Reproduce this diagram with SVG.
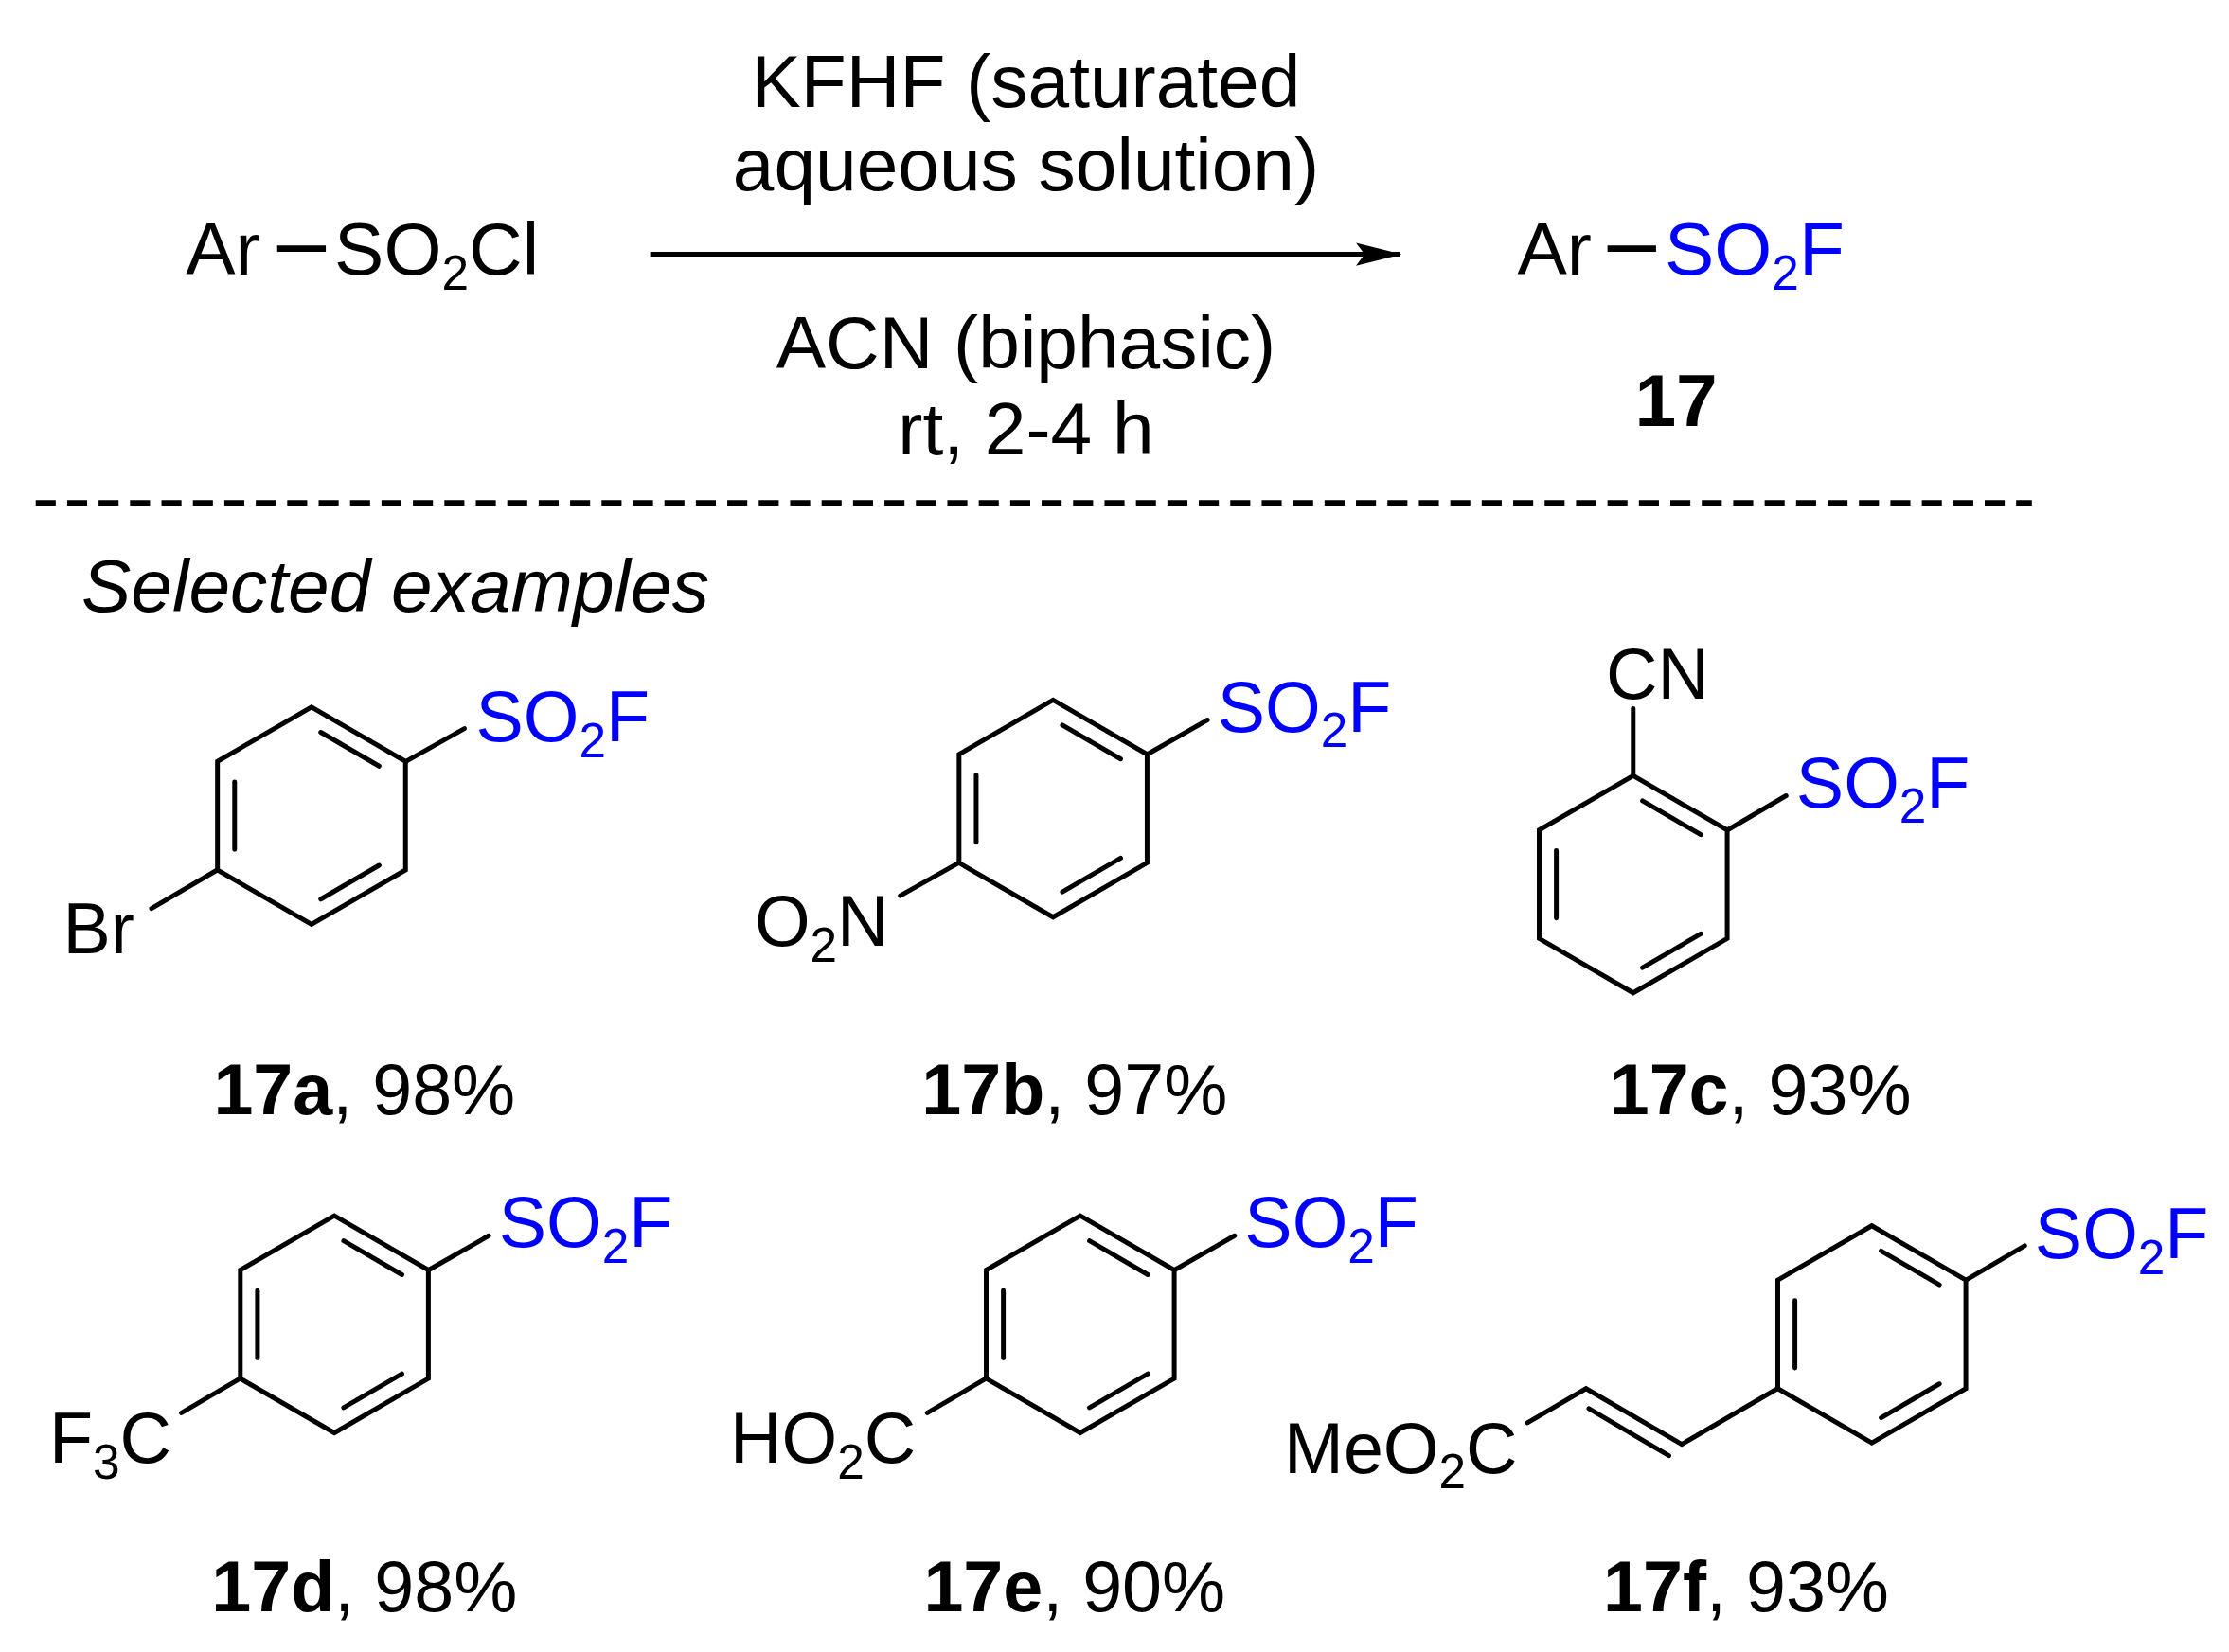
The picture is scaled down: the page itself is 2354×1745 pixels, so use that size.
<svg xmlns="http://www.w3.org/2000/svg" xmlns:xlink="http://www.w3.org/1999/xlink" width="2354" height="1745" viewBox="0 0 2354 1745">
<style>
text{font-family:"Liberation Sans",Arial,sans-serif;fill:#000}
.t{font-size:52px}
.s{font-size:50px}
.sub{font-size:34px}
.b{fill:#0000ff}
.bold{font-weight:bold}
.ln{stroke:#000;stroke-width:3.3;fill:none;stroke-linecap:round}
</style>
<defs>
<marker id="ah" markerWidth="32" markerHeight="18" refX="31" refY="9" orient="auto" markerUnits="userSpaceOnUse" viewBox="0 0 32 18"><path d="M0,1 L32,9 L0,17 L6,9 Z" fill="#000"/></marker>
<g id="ring">
<path class="ln" d="M0,-76 L65.8,-38 L65.8,38 L0,76 L-65.8,38 L-65.8,-38 Z"/>
<path class="ln" d="M6.5,-58.4 L47.3,-34.7 M-53.8,-23.6 L-53.8,23.6 M47.3,34.7 L6.5,58.4"/>
</g>
</defs>
<rect width="2354" height="1745" fill="#fff"/>
<g transform="scale(1.509)">
<g id="reaction">
<text class="t" x="130" y="192">Ar</text>
<line x1="194" y1="174" x2="228" y2="174" stroke="#000" stroke-width="4.5"/>
<text class="t" x="234" y="192">SO<tspan class="sub" dy="11">2</tspan><tspan dy="-11">Cl</tspan></text>
<text class="t" x="1062" y="192">Ar</text>
<line x1="1125" y1="174" x2="1159" y2="174" stroke="#000" stroke-width="4.5"/>
<text class="t b" x="1165" y="192">SO<tspan class="sub" dy="11">2</tspan><tspan dy="-11">F</tspan></text>
<text class="t bold" x="1173" y="298" text-anchor="middle">17</text>
<text class="t" x="718" y="75" text-anchor="middle">KFHF (saturated</text>
<text class="t" x="718" y="133" text-anchor="middle">aqueous solution)</text>
<text class="t" x="718" y="258" text-anchor="middle">ACN (biphasic)</text>
<text class="t" x="718" y="318" text-anchor="middle">rt, 2-4 h</text>
</g>
<g id="connectors">
<line x1="455" y1="178" x2="980" y2="178" stroke="#000" stroke-width="3.3" marker-end="url(#ah)"/>
<line x1="25" y1="352" x2="1422" y2="352" stroke="#000" stroke-width="4" stroke-dasharray="14,8"/>
</g>
<text x="57" y="428" style="font-size:52px;font-style:italic">Selected examples</text>

<g id="c17a">
<use xlink:href="#ring" x="218" y="571"/>
<line class="ln" x1="284" y1="533" x2="325" y2="510"/>
<text class="s b" x="333" y="519">SO<tspan class="sub" dy="11">2</tspan><tspan dy="-11">F</tspan></text>
<line class="ln" x1="152" y1="609" x2="106" y2="636"/>
<text class="s" x="44" y="667">Br</text>
<text class="s" x="255" y="780" text-anchor="middle"><tspan class="bold">17a</tspan>, 98%</text>
</g>
<g id="c17b">
<use xlink:href="#ring" x="737" y="566"/>
<line class="ln" x1="803" y1="528" x2="845" y2="504"/>
<text class="s b" x="852" y="512">SO<tspan class="sub" dy="11">2</tspan><tspan dy="-11">F</tspan></text>
<line class="ln" x1="671" y1="604" x2="630" y2="627"/>
<text class="s" x="622" y="662" text-anchor="end">O<tspan class="sub" dy="11">2</tspan><tspan dy="-11">N</tspan></text>
<text class="s" x="752" y="780" text-anchor="middle"><tspan class="bold">17b</tspan>, 97%</text>
</g>
<g id="c17c">
<use xlink:href="#ring" x="1143" y="619"/>
<line class="ln" x1="1143" y1="543" x2="1143" y2="496"/>
<text class="s" x="1160" y="489" text-anchor="middle">CN</text>
<line class="ln" x1="1209" y1="581" x2="1250" y2="557"/>
<text class="s b" x="1257" y="565">SO<tspan class="sub" dy="11">2</tspan><tspan dy="-11">F</tspan></text>
<text class="s" x="1232" y="780" text-anchor="middle"><tspan class="bold">17c</tspan>, 93%</text>
</g>
<g id="c17d">
<use xlink:href="#ring" x="234" y="927"/>
<line class="ln" x1="300" y1="889" x2="342" y2="865"/>
<text class="s b" x="349" y="873">SO<tspan class="sub" dy="11">2</tspan><tspan dy="-11">F</tspan></text>
<line class="ln" x1="168" y1="965" x2="127" y2="989"/>
<text class="s" x="120" y="1024" text-anchor="end">F<tspan class="sub" dy="11">3</tspan><tspan dy="-11">C</tspan></text>
<text class="s" x="255" y="1128" text-anchor="middle"><tspan class="bold">17d</tspan>, 98%</text>
</g>
<g id="c17e">
<use xlink:href="#ring" x="756" y="927"/>
<line class="ln" x1="822" y1="889" x2="864" y2="865"/>
<text class="s b" x="871" y="873">SO<tspan class="sub" dy="11">2</tspan><tspan dy="-11">F</tspan></text>
<line class="ln" x1="690" y1="965" x2="649" y2="989"/>
<text class="s" x="641" y="1024" text-anchor="end">HO<tspan class="sub" dy="11">2</tspan><tspan dy="-11">C</tspan></text>
<text class="s" x="752" y="1128" text-anchor="middle"><tspan class="bold">17e</tspan>, 90%</text>
</g>
<g id="c17f">
<use xlink:href="#ring" x="1310" y="934"/>
<line class="ln" x1="1376" y1="896" x2="1417" y2="872"/>
<text class="s b" x="1424" y="881">SO<tspan class="sub" dy="11">2</tspan><tspan dy="-11">F</tspan></text>
<path class="ln" d="M1244,972 L1177,1011 L1110,972 L1069,996"/>
<line class="ln" x1="1112" y1="986" x2="1168" y2="1019"/>
<text class="s" x="1062" y="1031" text-anchor="end">MeO<tspan class="sub" dy="11">2</tspan><tspan dy="-11">C</tspan></text>
<text class="s" x="1222" y="1128" text-anchor="middle"><tspan class="bold">17f</tspan>, 93%</text>
</g>
</g>
</svg>
